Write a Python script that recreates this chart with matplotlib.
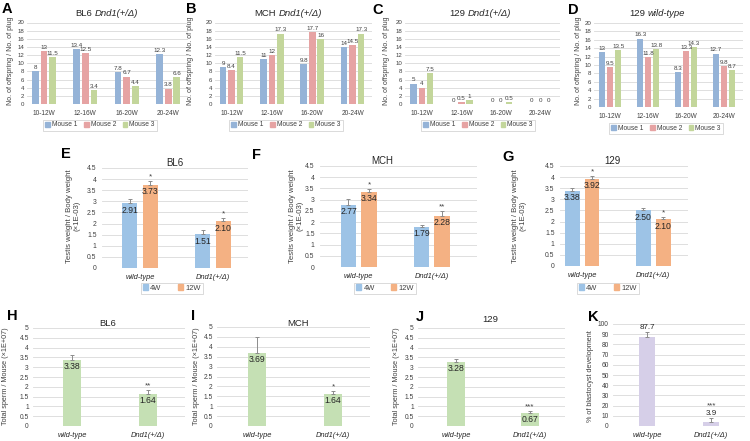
import numpy as np
import matplotlib
matplotlib.use("Agg")
import matplotlib.pyplot as plt
from matplotlib.patches import Patch

plt.rcParams["font.family"] = ["Liberation Sans", "DejaVu Sans"]

W, H = 750, 441

# ---- data: fertility (A-D) ----
weeks = ["10-12W", "12-16W", "16-20W", "20-24W"]
mice = ["Mouse 1", "Mouse 2", "Mouse 3"]
bl6_fert = [[8, 13.4, 7.8, 12.3], [13, 12.5, 6.7, 3.8], [11.5, 3.4, 4.4, 6.6]]
mch_fert = [[9, 11, 9.8, 14], [8.4, 12, 17.7, 14.5], [11.5, 17.3, 16, 17.3]]
s129_fert = [[5, 0, 0, 0], [4, 0.5, 0, 0], [7.5, 1, 0.5, 0]]
wt129_fert = [[13, 16.3, 8.3, 12.7], [9.5, 11.8, 13.3, 9.8], [13.5, 13.8, 14.3, 8.7]]

# ---- data: testis weight (E-G) ----
genotypes = ["wild-type", "Dnd1(+/\u0394)"]
ages = ["4W", "12W"]
bl6_tw = [[2.91, 1.51], [3.73, 2.10]]
bl6_tw_err = [[0.2, 0.2], [0.17, 0.15]]
bl6_tw_sig = ["*", "*"]
mch_tw = [[2.77, 1.79], [3.34, 2.28]]
mch_tw_err = [[0.28, 0.09], [0.14, 0.22]]
mch_tw_sig = ["*", "**"]
s129_tw = [[3.38, 2.50], [3.92, 2.10]]
s129_tw_err = [[0.14, 0.1], [0.11, 0.12]]
s129_tw_sig = ["*", "*"]

# ---- data: sperm count (H-J) and blastocyst (K) ----
bl6_sperm = [3.38, 1.64]
bl6_sperm_err = [0.24, 0.2]
mch_sperm = [3.69, 1.64]
mch_sperm_err = [0.79, 0.14]
s129_sperm = [3.28, 0.67]
s129_sperm_err = [0.14, 0.08]
sperm_sig = [["", "**"], ["", "*"], ["", "***"]]
blasto = [87.7, 3.9]
blasto_err = [4.5, 4.0]
blasto_sig = ["", "***"]

mouse_colors = ["#95B3D7", "#E6A3A3", "#C3D69B"]
age_colors = ["#9DC3E6", "#F4B183"]
sperm_color = "#C5E0B4"
blasto_color = "#D6CFE8"
err_color = "#8C8C8C"
grid_color = "#D9D9D9"

fig = plt.figure(figsize=(7.5, 4.41), dpi=100)
renderer = fig.canvas.get_renderer()


def fx(px):
    return px / W


def fy(py):
    return 1 - py / H


def make_ax(l, t, r, b):
    ax = fig.add_axes([fx(l), fy(b), fx(r - l), (b - t) / H])
    for s in ax.spines.values():
        s.set_visible(False)
    ax.yaxis.grid(True, color=grid_color, lw=0.6)
    ax.set_axisbelow(True)
    ax.tick_params(length=0)
    return ax


def letter(px, py, s):
    fig.text(fx(px), fy(py), s, fontsize=10.5, fontweight="bold",
             ha="left", va="top")


def mixed_title(cx, cy, plain, ital, size):
    t1 = fig.text(0, 0, plain, fontsize=size, va="center", color="#262626")
    t2 = fig.text(0, 0, ital, fontsize=size, style="italic", va="center",
                  color="#262626")
    w1 = t1.get_window_extent(renderer).width
    w2 = t2.get_window_extent(renderer).width
    gap = size * 0.35
    x0 = cx - (w1 + gap + w2) / 2
    t1.set_position((fx(x0), fy(cy)))
    t2.set_position((fx(x0 + w1 + gap), fy(cy)))


def ylabel(px, py, s, size):
    fig.text(fx(px), fy(py), s, fontsize=size, rotation=90,
             ha="center", va="center", color="#404040",
             multialignment="center", linespacing=1.1)


# ---------- A-D ----------
def fert_panel(rect, data, xlim, title_plain, title_ital, title_xy,
               let, let_xy, ylab_x, leg_xy):
    ax = make_ax(*rect)
    x = np.arange(len(weeks))
    for i, vals in enumerate(data):
        xs = x + (i - 1) * 0.21
        ax.bar(xs, vals, width=0.165, color=mouse_colors[i], label=mice[i])
        for xx, v in zip(xs, vals):
            ax.text(xx, v + 0.3, f"{v:g}", ha="center", va="bottom",
                    fontsize=4.5, color="#404040")
    ax.set_ylim(0, 20)
    ax.set_yticks(np.arange(0, 21, 2))
    ax.set_xlim(*xlim)
    ax.set_xticks(x)
    ax.set_xticklabels(weeks, fontsize=4.7, color="#404040")
    ax.tick_params(axis="y", labelsize=4.4, labelcolor="#404040", pad=2)
    ax.tick_params(axis="x", pad=4)
    mixed_title(title_xy[0], title_xy[1], title_plain, title_ital, 6.8)
    letter(let_xy[0], let_xy[1], let)
    ylabel(ylab_x, 61, "No. of offspring / No. of plug", 5.0)
    handles = [Patch(color=c, label=m) for c, m in zip(mouse_colors, mice)]
    leg = ax.legend(handles=handles, ncol=3, loc="center",
                    bbox_to_anchor=(fx(leg_xy[0]), fy(leg_xy[1])),
                    bbox_transform=fig.transFigure, fontsize=4.8,
                    handlelength=0.7, handleheight=0.7, handletextpad=0.3,
                    columnspacing=1.0, borderpad=0.3, fancybox=False)
    leg.get_frame().set_edgecolor("#BFBFBF")
    leg.get_frame().set_linewidth(0.5)
    for t in leg.get_texts():
        t.set_color("#404040")


fert_panel((27, 22.5, 188, 104), bl6_fert, (-0.41, 3.48), "BL6",
           "Dnd1(+/\u0394)", (107, 14), "A", (2, 2), 11, (100, 125))
fert_panel((215, 22.5, 372, 104), mch_fert, (-0.41, 3.48), "MCH",
           "Dnd1(+/\u0394)", (288, 13), "B", (186, 2), 190, (286, 125))
fert_panel((405, 22.5, 560, 104), s129_fert, (-0.43, 3.5), "129",
           "Dnd1(+/\u0394)", (480, 14), "C", (372, 3), 386, (478, 125))
fert_panel((594, 23, 743, 107), wt129_fert, (-0.43, 3.5), "129",
           "wild-type", (657, 14), "D", (568, 3), 578, (666, 128))


# ---------- E-G ----------
def tw_panel(rect, vals, errs, sigs, xlim, title, title_xy, let, let_xy,
             ylab_x, leg_xy):
    ax = make_ax(*rect)
    x = np.arange(len(genotypes))
    for i in range(len(ages)):
        xs = x + (i - 0.5) * 0.28
        ax.bar(xs, vals[i], width=0.21, color=age_colors[i], label=ages[i])
        ax.errorbar(xs, vals[i], yerr=[[0] * len(xs), errs[i]], fmt="none",
                    ecolor=err_color, elinewidth=0.7, capsize=1.5,
                    capthick=0.7)
        for xx, v in zip(xs, vals[i]):
            ax.text(xx, v - 0.1, f"{v:.2f}", ha="center", va="top",
                    fontsize=6.2, color="#262626")
    xs12 = x + 0.5 * 0.28
    for xx, v, e, s in zip(xs12, vals[1], errs[1], sigs):
        ax.text(xx, v + e + 0.03, s, ha="center", va="bottom",
                fontsize=5.8, color="#404040")
    ax.set_ylim(0, 4.5)
    ax.set_yticks(np.arange(0, 4.51, 0.5))
    ax.set_yticklabels([f"{t:g}" for t in np.arange(0, 4.51, 0.5)])
    ax.set_xlim(*xlim)
    ax.set_xticks(x)
    ax.set_xticklabels(genotypes, fontsize=5.4, style="italic",
                       color="#262626")
    ax.tick_params(axis="y", labelsize=4.9, labelcolor="#404040", pad=4)
    ax.tick_params(axis="x", pad=4)
    fig.text(fx(title_xy[0]), fy(title_xy[1]), title, fontsize=7,
             ha="center", va="center", color="#262626")
    letter(let_xy[0], let_xy[1], let)
    ylabel(ylab_x, 216, "Testis weight / Body weight\n(\u00d71E-03)", 5.6)
    handles = [Patch(color=c, label=a) for c, a in zip(age_colors, ages)]
    leg = ax.legend(handles=handles, ncol=2, loc="center",
                    bbox_to_anchor=(fx(leg_xy[0]), fy(leg_xy[1])),
                    bbox_transform=fig.transFigure, fontsize=5.4,
                    handlelength=0.7, handleheight=0.7, handletextpad=0.3,
                    columnspacing=2.2, borderpad=0.25, fancybox=False)
    leg.get_frame().set_edgecolor("#BFBFBF")
    leg.get_frame().set_linewidth(0.5)
    for t in leg.get_texts():
        t.set_color("#404040")


tw_panel((102, 168, 248, 268), bl6_tw, bl6_tw_err, bl6_tw_sig,
         (-0.52, 1.48), "BL6", (175, 163), "E", (61, 147), 73, (172, 288))
tw_panel((320, 166, 477, 267), mch_tw, mch_tw_err, mch_tw_sig,
         (-0.53, 1.62), "MCH", (382, 161), "F", (252, 148), 296, (385, 288))
tw_panel((560, 166, 688, 266), s129_tw, s129_tw_err, s129_tw_sig,
         (-0.31, 1.49), "129", (612, 161), "G", (502, 150), 519, (608, 288))


# ---------- H-K ----------
def single_panel(rect, vals, errs, sigs, xlim, ymax, ystep, color, inside,
                 title, title_xy, let, let_xy, ylab_x, ylab, fmt):
    ax = make_ax(*rect)
    x = np.arange(len(genotypes))
    ax.bar(x, vals, width=0.24, color=color)
    ax.errorbar(x, vals, yerr=[[0] * len(x), errs], fmt="none",
                ecolor=err_color, elinewidth=0.7, capsize=1.5, capthick=0.7)
    for xx, v, e, s in zip(x, vals, errs, sigs):
        if inside:
            ax.text(xx, v - ymax * 0.02, fmt.format(v), ha="center",
                    va="top", fontsize=6.2, color="#262626")
            if s:
                ax.text(xx, v + e + ymax * 0.005, s, ha="center",
                        va="bottom", fontsize=5.8, color="#404040")
        else:
            ax.text(xx, v + e + ymax * 0.01, fmt.format(v), ha="center",
                    va="bottom", fontsize=5.8, color="#262626")
            if s:
                ax.text(xx, v + e + ymax * 0.08, s, ha="center",
                        va="bottom", fontsize=5.8, color="#404040")
    ticks = np.arange(0, ymax + ystep / 2, ystep)
    ax.set_ylim(0, ymax)
    ax.set_yticks(ticks)
    ax.set_yticklabels([f"{t:g}" for t in ticks])
    ax.set_xlim(*xlim)
    ax.set_xticks(x)
    ax.set_xticklabels(genotypes, fontsize=5.4, style="italic",
                       color="#262626")
    ax.tick_params(axis="y", labelsize=4.8, labelcolor="#404040", pad=3)
    ax.tick_params(axis="x", pad=4)
    if title:
        fig.text(fx(title_xy[0]), fy(title_xy[1]), title, fontsize=6.8,
                 ha="center", va="center", color="#262626")
    letter(let_xy[0], let_xy[1], let)
    ylabel(ylab_x, 376, ylab, 5.2)


sperm_lab = "Total sperm / Mouse (\u00d71E+07)"
single_panel((33, 328, 185, 426), bl6_sperm, bl6_sperm_err, sperm_sig[0],
             (-0.52, 1.49), 5, 0.5, sperm_color, True, "BL6", (108, 323),
             "H", (7, 309), 6, sperm_lab, "{:.2f}")
single_panel((217, 327, 370, 426), mch_sperm, mch_sperm_err, sperm_sig[1],
             (-0.53, 1.49), 5, 0.5, sperm_color, True, "MCH", (298, 323),
             "I", (191, 309), 197, sperm_lab, "{:.2f}")
single_panel((418, 328, 565, 426), s129_sperm, s129_sperm_err, sperm_sig[2],
             (-0.52, 1.48), 5, 0.5, sperm_color, True, "129", (490, 320),
             "J", (416, 310), 397, sperm_lab, "{:.2f}")
single_panel((613, 324, 745, 426), blasto, blasto_err, blasto_sig,
             (-0.53, 1.53), 100, 10, blasto_color, False, "", None,
             "K", (588, 310), 591, "% of blastocyst development", "{:.1f}")

fig.savefig("out.png", dpi=100)
